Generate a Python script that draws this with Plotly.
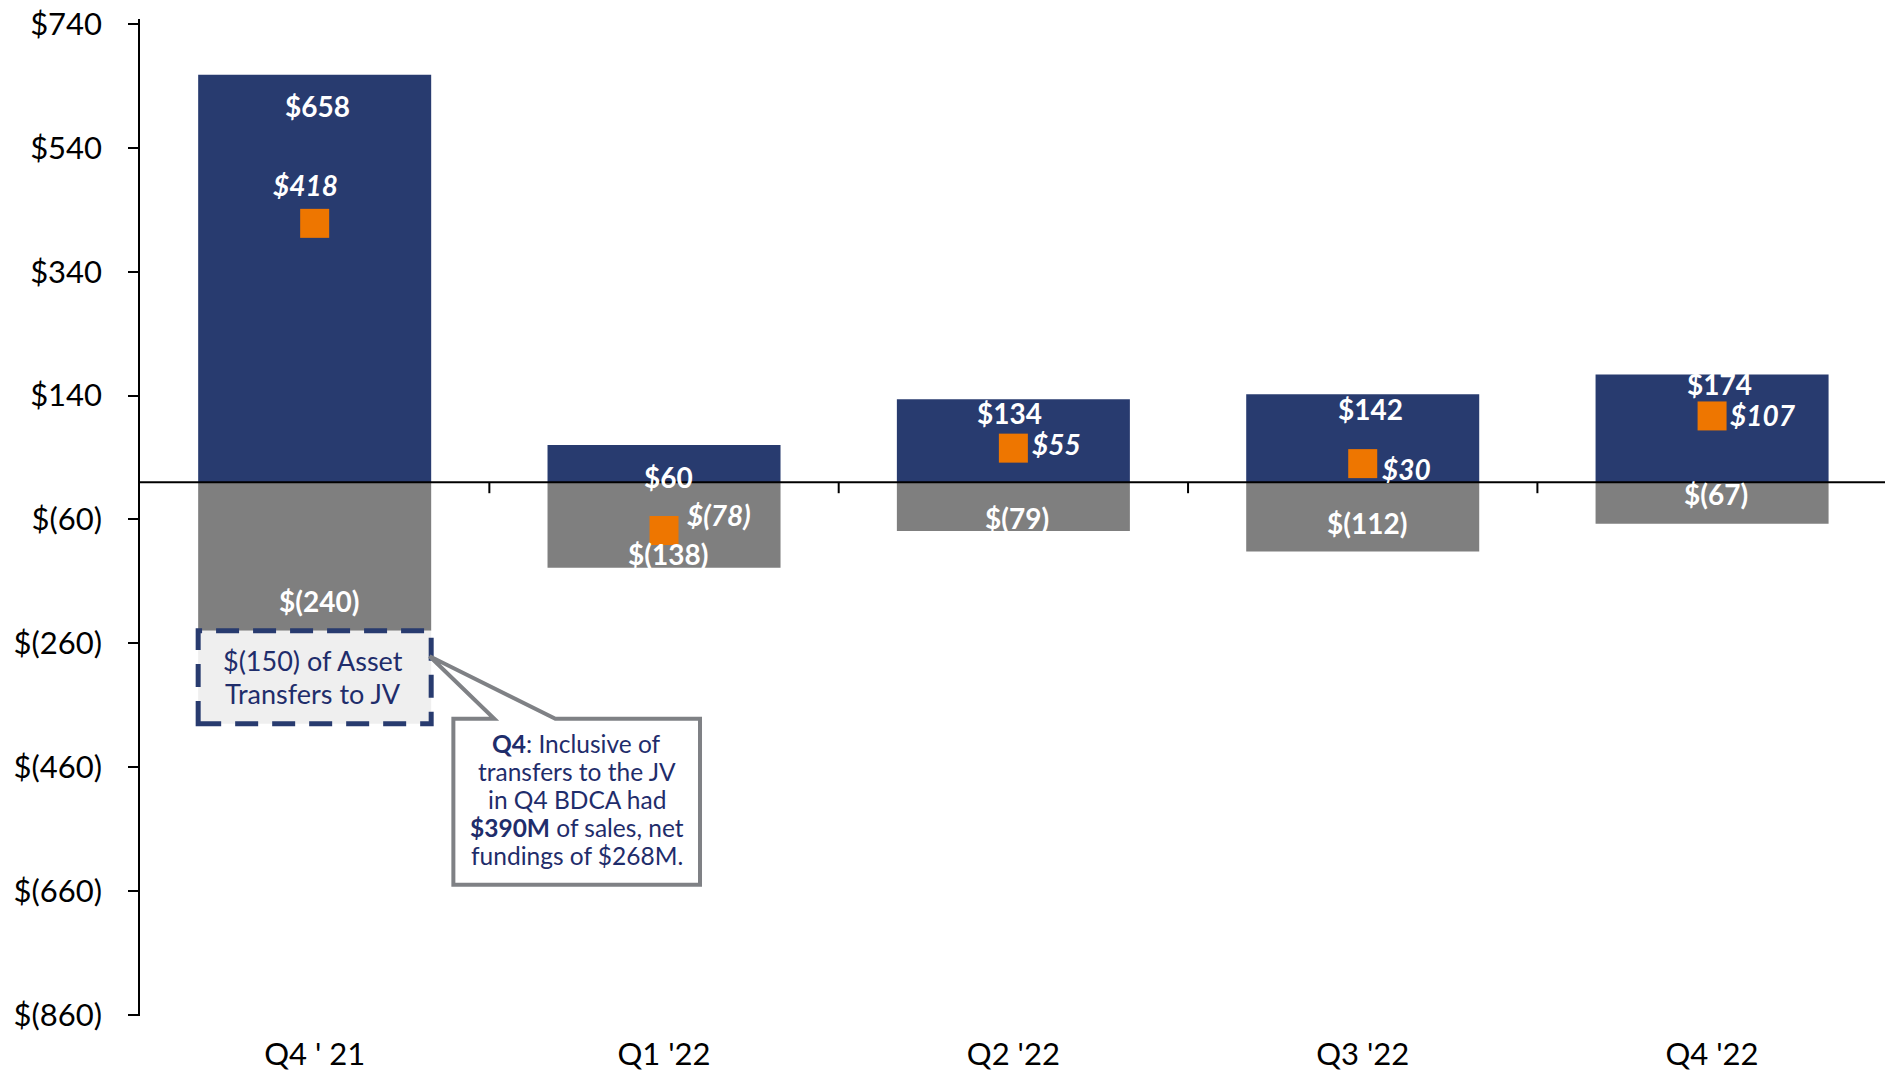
import plotly.graph_objects as go

# ---------------- data ----------------
categories = ["Q4 ' 21", "Q1 '22", "Q2 '22", "Q3 '22", "Q4 '22"]
fundings = [658, 60, 134, 142, 174]          # blue bars
repayments = [-240, -138, -79, -112, -67]    # gray bars
net_fundings = [418, -78, 55, 30, 107]       # orange markers
jv_transfer = -150                           # dashed box under Q4 '21

y_tickvals = [740, 540, 340, 140, -60, -260, -460, -660, -860]


def money(v):
    return f"${v}" if v >= 0 else f"$({-v})"


y_ticktext = [money(v) for v in y_tickvals]

jv_lines = [f"{money(jv_transfer)} of Asset", "Transfers to JV"]
callout_lines = ["<b>Q4</b>: Inclusive of", "transfers to the JV", "in Q4 BDCA had",
                 "<b>$390M</b> of sales, net", "fundings of $268M."]

# ---------------- styles ----------------
BLUE = "#283B6F"
GRAY = "#7F7F7F"
ORANGE = "#EE7600"
NAVY_TXT = "#1F2D6B"
FONT = "Lato"
BAR_W = 0.667
YMIN, YMAX = -862, 748
XMIN, XMAX = -0.5, 4.495

# label offsets (pixels) - style only
blue_shift = [(3, -31), (4, -32), (-4, -14), (8, -15), (7, -10)]
gray_shift = [(4, 30), (4, 14), (4, 13), (4, 29), (4, 30)]
orange_shift = [(-9, 38, "center"), (21, 16, "left"), (17, 4, "left"), (17, -5, "left"), (16, 1, "left")]

xs = list(range(len(categories)))

fig = go.Figure()
fig.add_trace(go.Bar(x=xs, y=fundings, marker=dict(color=BLUE, line=dict(width=0)),
                     width=BAR_W, hoverinfo="skip", showlegend=False))
fig.add_trace(go.Bar(x=xs, y=repayments, marker=dict(color=GRAY, line=dict(width=0)),
                     width=BAR_W, hoverinfo="skip", showlegend=False))
fig.add_trace(go.Scatter(x=xs, y=net_fundings, mode="markers",
                         marker=dict(symbol="square", size=29, color=ORANGE, line=dict(width=0)),
                         hoverinfo="skip", showlegend=False))

annotations = []
for i, v in enumerate(fundings):
    dx, dy = blue_shift[i]
    annotations.append(dict(x=i, y=v, xref="x", yref="y", text=f"<b>{money(v)}</b>",
                            showarrow=False, xshift=dx, yshift=dy,
                            font=dict(family=FONT, size=28, color="white")))
for i, v in enumerate(repayments):
    dx, dy = gray_shift[i]
    annotations.append(dict(x=i, y=v, xref="x", yref="y", text=f"<b>{money(v)}</b>",
                            showarrow=False, xshift=dx, yshift=dy,
                            font=dict(family=FONT, size=28, color="white")))
for i, v in enumerate(net_fundings):
    dx, dy, anc = orange_shift[i]
    annotations.append(dict(x=i, y=v, xref="x", yref="y", text=f"<b><i>{money(v)}</i></b>",
                            showarrow=False, xshift=dx, yshift=dy, xanchor=anc,
                            font=dict(family=FONT, size=28, color="white")))

shapes = []
# zero line and its boundary ticks
shapes.append(dict(type="line", xref="paper", yref="y", x0=0, x1=1, y0=0, y1=0,
                   line=dict(color="black", width=2), layer="above"))
for b in [0.5, 1.5, 2.5, 3.5]:
    shapes.append(dict(type="line", xref="x", yref="y", x0=b, x1=b,
                       ysizemode="pixel", yanchor=0, y0=0, y1=-11,
                       line=dict(color="black", width=2), layer="above"))

# dashed box for JV transfer
jv_top = repayments[0]
jv_bot = repayments[0] + jv_transfer
shapes.append(dict(type="rect", xref="x", yref="y", x0=-BAR_W / 2, x1=BAR_W / 2,
                   y0=jv_bot, y1=jv_top, fillcolor="#EFEFEF",
                   line=dict(color=BLUE, width=5, dash="23px,14px"), layer="above"))
for k, line in enumerate(jv_lines):
    annotations.append(dict(x=0, y=(jv_top + jv_bot) / 2, xref="x", yref="y",
                            text=line, showarrow=False, xshift=-2,
                            yshift=16.5 - 33 * k,
                            font=dict(family=FONT, size=27, color=NAVY_TXT)))

# callout with pointer
bl, br, bt, bb = 0.397, 1.103, -382, -650
pl, pr = 0.514, 0.689
tip_x, tip_y = 0.329, -281
path = (f"M {bl},{bt} L {pl},{bt} L {tip_x},{tip_y} L {pr},{bt} L {br},{bt} "
        f"L {br},{bb} L {bl},{bb} Z")
shapes.append(dict(type="path", xref="x", yref="y", path=path, fillcolor="white",
                   line=dict(color="#7F8185", width=4), layer="above"))
for k, line in enumerate(callout_lines):
    annotations.append(dict(x=(bl + br) / 2, y=-513, xref="x", yref="y",
                            text=line, showarrow=False, yshift=56 - 28 * k,
                            font=dict(family=FONT, size=24.5, color=NAVY_TXT)))

fig.update_layout(
    width=1885, height=1072,
    margin=dict(l=140, r=0, t=19, b=56),
    paper_bgcolor="white", plot_bgcolor="white",
    barmode="relative",
    hovermode=False,
    font=dict(family=FONT, color="black"),
    xaxis=dict(range=[XMIN, XMAX], tickvals=xs, ticktext=categories,
               showline=False, showgrid=False, zeroline=False, ticks="",
               tickfont=dict(family=FONT, size=31, color="black"),
               ticklabelstandoff=17, automargin=False),
    yaxis=dict(range=[YMIN, YMAX], tickvals=y_tickvals, ticktext=y_ticktext,
               showline=True, linecolor="black", linewidth=1.5,
               ticks="outside", ticklen=10, tickwidth=1.5, tickcolor="black",
               showgrid=False, zeroline=False,
               tickfont=dict(family=FONT, size=31, color="black"),
               ticklabelstandoff=20, ticklabeloverflow="allow", automargin=False),
    shapes=shapes,
    annotations=annotations,
)

fig.write_html(
    "out.html",
    config={"displayModeBar": False},
    post_script="document.body.style.margin='0';document.body.style.overflow='hidden';",
)
